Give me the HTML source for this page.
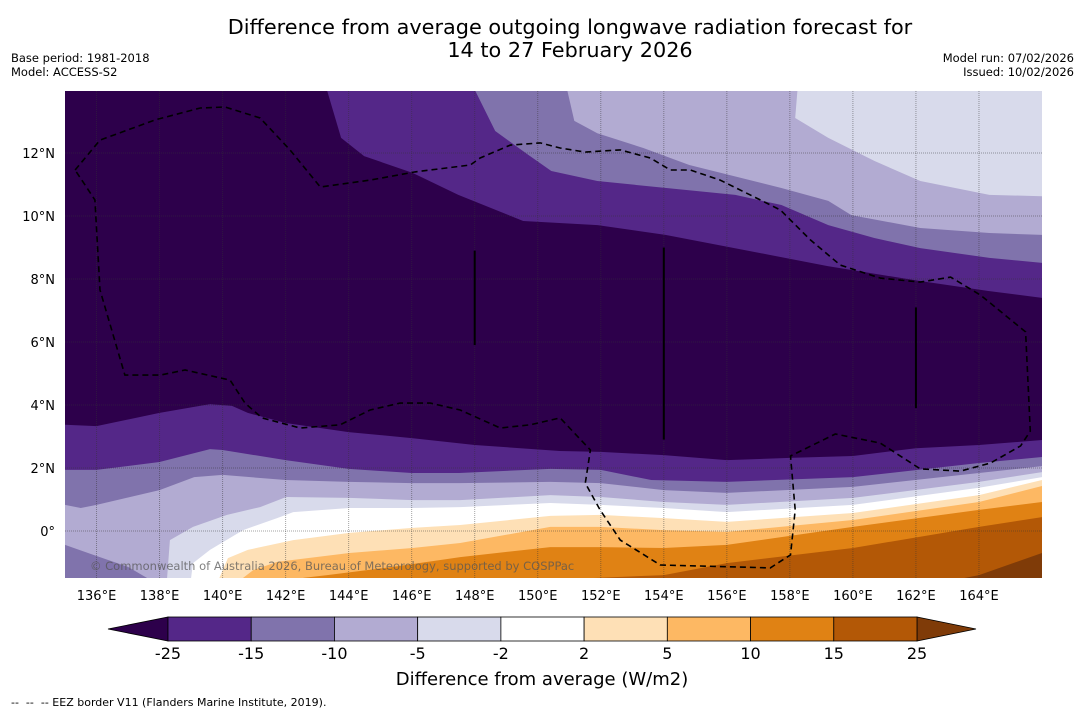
<!DOCTYPE html>
<html><head><meta charset="utf-8">
<style>
html,body{margin:0;padding:0;background:#fff;width:1085px;height:713px;overflow:hidden;font-family:"Liberation Sans","DejaVu Sans",sans-serif;}
svg text{font-family:"DejaVu Sans","Liberation Sans",sans-serif;}
</style></head>
<body>
<svg id="chart" width="1085" height="713" xmlns="http://www.w3.org/2000/svg">
<text x="570" y="34" font-size="20.8" text-anchor="middle" fill="#000">Difference from average outgoing longwave radiation forecast for</text>
<text x="570" y="57" font-size="20.8" text-anchor="middle" fill="#000">14 to 27 February 2026</text>
<text x="11" y="62" font-size="11.5">Base period: 1981-2018</text>
<text x="11" y="76" font-size="11.5">Model: ACCESS-S2</text>
<text x="1074" y="62" font-size="11.5" text-anchor="end">Model run: 07/02/2026</text>
<text x="1074" y="76" font-size="11.5" text-anchor="end">Issued: 10/02/2026</text>
<defs><clipPath id="plotclip"><rect x="65" y="91" width="977" height="487"/></clipPath></defs>
<g id="plot" clip-path="url(#plotclip)"></g>
<g id="axes"></g>
<g id="cbar"></g>
<text x="542" y="685" font-size="18" text-anchor="middle">Difference from average (W/m2)</text>
<text x="11" y="706" font-size="11" xml:space="preserve" style="white-space:pre">--  --  -- EEZ border V11 (Flanders Marine Institute, 2019).</text>
</svg>
<script>
// Map extent
const lonMin = 135, lonMax = 166, latMin = -1.5, latMax = 14;
const lonTicks = [136,138,140,142,144,146,148,150,152,154,156,158,160,162,164];
const latTicks = [0,2,4,6,8,10,12];
// Colour levels
const levelColors = ["#2d004b","#542788","#8073ac","#b2abd2","#d8daeb","#ffffff","#fee0b6","#fdb863","#e08214","#b35806","#7f3b08"];
const cbarLabels = ["-25","-15","-10","-5","-2","2","5","10","15","25"];
// Northern contour boundaries (region above filled)
const nA_lon = [135,143.1,143.32,143.76,144.49,146.02,147.48,149.54,151.9,154.05,156.24,159.2,162.1,164.3,166];
const nA_lat = [14.6,14.6,13.97,12.48,11.9,11.37,10.67,9.84,9.71,9.4,8.98,8.41,7.94,7.62,7.4];
const nB_lon = [135,147.8,148.02,148.65,149.7,150.43,151.89,154.08,156.27,157.73,159.22,160.68,162.14,164.33,166];
const nB_lat = [14.6,14.6,13.97,12.7,11.94,11.43,11.11,10.89,10.67,10.35,9.71,9.3,8.98,8.67,8.51];
const nC_lon = [135,150.8,150.94,151.16,151.89,153.35,154.81,157.73,159.22,159.95,162.14,164.33,166];
const nC_lat = [14.6,14.6,13.97,13.02,12.63,12.16,11.62,10.89,10.48,10.03,9.62,9.46,9.4];
const nD_lon = [135,158.2,158.24,158.17,159.22,160.68,162.14,164.33,166];
const nD_lat = [14.6,14.6,13.97,13.11,12.48,11.75,11.11,10.67,10.63];
// Southern contour boundaries (region below filled)
const sE_lon = [135,136,138,139.6,140.3,140.8,142,144,146,148,150.7,152,154,156,158,160,162,164,166];
const sE_lat = [3.37,3.33,3.75,4.03,3.97,3.75,3.43,3.14,2.95,2.73,2.54,2.51,2.41,2.25,2.32,2.38,2.63,2.73,2.89];
const sF_lon = [135,136,138,139.6,140,142,144,146,147.5,150.4,152,153.6,156,160,164,166];
const sF_lat = [1.94,1.94,2.19,2.6,2.57,2.25,1.97,1.84,1.84,1.97,1.94,1.62,1.56,1.71,2.16,2.35];
const sG_lon = [135,135.5,136,138,139.1,140,142,144,146,147.5,150.4,152,154,156,160,164,166];
const sG_lat = [0.83,0.73,0.83,1.3,1.71,1.78,1.62,1.56,1.52,1.52,1.56,1.52,1.3,1.21,1.4,1.84,2.06];
const sH_lon = [135,138.2,138.24,138.33,139.06,140.14,141.19,142.02,144.02,146.02,147.54,150.4,152,154,156,160,164,166];
const sH_lat = [-1.7,-1.7,-1.49,-0.29,0.13,0.51,0.76,1.08,1.05,0.98,0.98,1.14,1.08,0.92,0.83,1.05,1.56,1.87];
const sI_lon = [135,138.9,139.0,139.06,139.6,140.65,141.73,142.24,144.02,146.02,147.54,150.4,152,154,156,160,164,166];
const sI_lat = [-1.7,-1.7,-1.49,-1.02,-0.6,0.03,0.41,0.6,0.73,0.73,0.76,0.89,0.83,0.73,0.6,0.83,1.37,1.71];
const sJ_lon = [135,139.8,139.9,140.17,140.8,142.24,144.02,146.02,147.54,150.4,152,154,156,160,164,166];
const sJ_lat = [-1.7,-1.7,-1.49,-0.86,-0.6,-0.29,-0.06,0.1,0.19,0.48,0.51,0.41,0.29,0.57,1.14,1.62];
const sK_lon = [135,140.6,140.65,140.97,141.73,144.02,146.02,147.54,150.4,152,154,156,160,164,166];
const sK_lat = [-1.7,-1.7,-1.49,-1.24,-0.98,-0.7,-0.54,-0.38,0.13,0.13,0.03,-0.03,0.35,0.92,1.43];
const sL_lon = [135,142.5,142.56,143.32,145.41,147.54,150.4,152,154,156,160,164,166];
const sL_lat = [-1.7,-1.7,-1.49,-1.4,-1.14,-0.83,-0.51,-0.51,-0.54,-0.44,0.13,0.67,0.92];
const sM_lon = [135,150.3,150.4,154,156,160,164,166];
const sM_lat = [-1.7,-1.7,-1.55,-1.4,-1.02,-0.54,0.13,0.44];
const sN_lon = [135,163.2,163.25,164,166];
const sN_lat = [-1.7,-1.7,-1.55,-1.4,-0.7];
// bottom-left patch returning to -10 band
const patch_lon = [135,135.9,137,137.6];
const patch_lat = [-0.44,-0.76,-1.14,-1.49];
// EEZ border (lon, lat)
const eez_lon = [135.32,136.11,137.86,139.29,140.08,141.19,142.14,143.1,144.68,146.11,147.86,148.17,149.13,150.08,150.71,151.51,152.62,153.57,154.21,154.84,155.79,157.06,157.7,158.65,159.6,160.87,162.14,163.1,164.05,165.48,165.63,165.32,164.37,163.41,162.14,160.87,159.44,158.02,158.17,158.02,157.38,155.16,153.89,152.62,151.98,151.51,151.67,150.71,149.76,148.81,147.54,146.59,145.63,144.68,143.73,142.46,141.25,140.71,140.24,138.81,138.02,136.9,136.11,135.95,135.32];
const eez_lat = [11.46,12.41,13.05,13.43,13.46,13.11,12.1,10.92,11.14,11.4,11.62,11.84,12.25,12.32,12.16,12.03,12.1,11.84,11.46,11.46,11.14,10.51,10.19,9.24,8.44,8.03,7.9,8.06,7.49,6.32,3.17,2.7,2.16,1.9,1.97,2.79,3.08,2.38,0.67,-0.76,-1.17,-1.11,-1.08,-0.29,0.67,1.52,2.57,3.59,3.37,3.27,3.84,4.06,4.06,3.84,3.37,3.27,3.59,4.06,4.79,5.11,4.95,4.95,7.65,10.51,11.46];

const NS = "http://www.w3.org/2000/svg";
const X0 = 65, X1 = 1042, Y0 = 91, Y1 = 578;
function xs(lon){ return X0 + (lon - lonMin) * (X1 - X0) / (lonMax - lonMin); }
function ys(lat){ return 531 - lat * 31.5; }
const plot = document.getElementById('plot');
const axes = document.getElementById('axes');
const cbar = document.getElementById('cbar');
function mk(tag, attrs, parent){ const e = document.createElementNS(NS, tag); for (const k in attrs) e.setAttribute(k, attrs[k]); parent.appendChild(e); return e; }

const bg = mk('rect', {x:X0, y:Y0, width:X1-X0, height:Y1-Y0, fill:levelColors[0]}, plot);



function linePts(lons, lats){ return lons.map((l,i)=> xs(l).toFixed(1)+','+ys(lats[i]).toFixed(1)); }
function northBand(lons, lats, color, name){
  const pts = linePts(lons, lats);
  pts.push(xs(lonMax+1)+','+ys(lats[lats.length-1]), xs(lonMax+1)+','+(Y0-20), xs(lonMin-1)+','+(Y0-20), xs(lonMin-1)+','+ys(lats[0]));
  const p = mk('polygon', {points: pts.join(' '), fill: color}, plot);
  
  
}
function southBand(lons, lats, color, name){
  const pts = linePts(lons, lats);
  pts.push(xs(lonMax+1)+','+ys(lats[lats.length-1]), xs(lonMax+1)+','+(Y1+20), xs(lonMin-1)+','+(Y1+20), xs(lonMin-1)+','+ys(lats[0]));
  const p = mk('polygon', {points: pts.join(' '), fill: color}, plot);
  
  
}
northBand(nA_lon, nA_lat, levelColors[1], 'north-band-minus15');
northBand(nB_lon, nB_lat, levelColors[2], 'north-band-minus10');
northBand(nC_lon, nC_lat, levelColors[3], 'north-band-minus5');
northBand(nD_lon, nD_lat, levelColors[4], 'north-band-minus2');
southBand(sE_lon, sE_lat, levelColors[1], 'south-band-minus15');
southBand(sF_lon, sF_lat, levelColors[2], 'south-band-minus10');
southBand(sG_lon, sG_lat, levelColors[3], 'south-band-minus5');
southBand(sH_lon, sH_lat, levelColors[4], 'south-band-minus2');
southBand(sI_lon, sI_lat, levelColors[5], 'south-band-neutral');
southBand(sJ_lon, sJ_lat, levelColors[6], 'south-band-plus2');
southBand(sK_lon, sK_lat, levelColors[7], 'south-band-plus5');
southBand(sL_lon, sL_lat, levelColors[8], 'south-band-plus10');
southBand(sM_lon, sM_lat, levelColors[9], 'south-band-plus15');
southBand(sN_lon, sN_lat, levelColors[10], 'south-band-plus25');
{
  const pts = linePts(patch_lon, patch_lat);
  pts.push(xs(patch_lon[patch_lon.length-1])+','+(Y1+20), xs(lonMin-1)+','+(Y1+20), xs(lonMin-1)+','+ys(patch_lat[0]));
  const p = mk('polygon', {points: pts.join(' '), fill: levelColors[2]}, plot);
  
  
}
// gridlines
lonTicks.forEach(l=>{
  const g = mk('line', {x1:xs(l), x2:xs(l), y1:Y0, y2:Y1, stroke:'#333', 'stroke-opacity':0.45, 'stroke-width':1, 'stroke-dasharray':'1,1'}, plot);
  
  
});
latTicks.forEach(l=>{
  const g = mk('line', {x1:X0, x2:X1, y1:ys(l), y2:ys(l), stroke:'#333', 'stroke-opacity':0.45, 'stroke-width':1, 'stroke-dasharray':'1,1'}, plot);
  
  
});
// artifact vertical lines
[[148,8.9,5.9],[154,9.0,2.9],[162,7.1,3.9]].forEach(a=>{
  const v = mk('line', {x1:xs(a[0]), x2:xs(a[0]), y1:ys(a[1]), y2:ys(a[2]), stroke:'#000', 'stroke-width':2}, plot);
  
  
});
// EEZ
const eez = mk('polyline', {points: linePts(eez_lon, eez_lat).join(' '), fill:'none', stroke:'#000', 'stroke-width':1.6, 'stroke-dasharray':'6,4'}, plot);


const cp = mk('text', {x:90, y:570, 'font-size':11.5, fill:'#555', 'fill-opacity':0.75}, plot);
cp.textContent = '© Commonwealth of Australia 2026, Bureau of Meteorology, supported by COSPPac';


// tick labels
lonTicks.forEach(l=>{
  const t = mk('text', {x:xs(l), y:600, 'font-size':13, 'text-anchor':'middle'}, axes);
  t.textContent = l + '°E';
  
  
});
latTicks.forEach(l=>{
  const t = mk('text', {x:55, y:ys(l)+5, 'font-size':13, 'text-anchor':'end'}, axes);
  t.textContent = l === 0 ? '0°' : l + '°N';
  
  
});
// colorbar
const cbX0 = 168, cbX1 = 917, cbY0 = 617, cbY1 = 641;
const nBoxes = levelColors.length - 2;
const bw = (cbX1 - cbX0) / nBoxes;
const lt = mk('polygon', {points:`108,${(cbY0+cbY1)/2} ${cbX0},${cbY0} ${cbX0},${cbY1}`, fill:levelColors[0], stroke:'#000', 'stroke-width':0.8}, cbar);


const rt = mk('polygon', {points:`976,${(cbY0+cbY1)/2} ${cbX1},${cbY0} ${cbX1},${cbY1}`, fill:levelColors[levelColors.length-1], stroke:'#000', 'stroke-width':0.8}, cbar);


for (let i = 0; i < nBoxes; i++){
  const r = mk('rect', {x:cbX0 + i*bw, y:cbY0, width:bw, height:cbY1-cbY0, fill:levelColors[i+1], stroke:'#000', 'stroke-width':0.8}, cbar);
  
  
}
cbarLabels.forEach((s,i)=>{
  const t = mk('text', {x:cbX0 + i*bw, y:659, 'font-size':16, 'text-anchor':'middle'}, cbar);
  t.textContent = s;
  
  
});
</script>
</body></html>
